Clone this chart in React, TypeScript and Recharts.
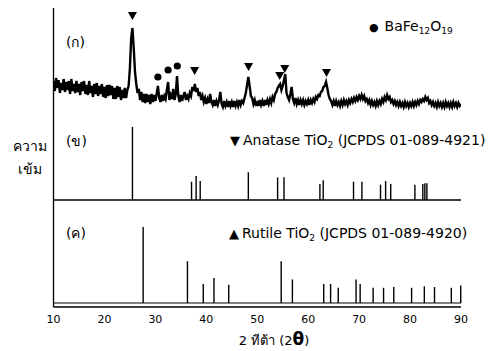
import React from 'react';
import { ComposedChart, XAxis, YAxis, Line, ReferenceLine, ReferenceDot } from 'recharts';

// measured pattern (ก): [2θ, counts in arbitrary units]
const scan: [number, number][] = [
  [10, 29], [10.25, 19], [10.5, 32], [10.75, 22], [11, 30], [11.25, 17], [11.5, 27], [11.75, 20],
  [12, 31], [12.25, 18], [12.5, 28], [12.75, 20], [13, 29], [13.25, 16], [13.5, 31], [13.75, 19],
  [14, 26], [14.25, 17], [14.5, 29], [14.75, 18], [15, 26], [15.25, 15], [15.5, 28], [15.75, 19],
  [16, 29], [16.25, 16], [16.5, 25], [16.75, 15], [17, 29], [17.25, 17], [17.5, 24], [17.75, 13],
  [18, 26], [18.25, 16], [18.5, 27], [18.75, 14], [19, 24], [19.25, 16], [19.5, 26], [19.75, 13],
  [20, 23], [20.25, 12], [20.5, 25], [20.75, 14], [21, 25], [21.25, 15], [21.5, 24], [21.75, 11],
  [22, 22], [22.25, 11], [22.5, 24], [22.75, 13], [23, 23], [23.25, 10], [23.5, 20], [23.75, 12],
  [24, 22], [24.25, 12], [24.5, 20], [24.75, 24], [25, 42], [25.25, 72], [25.5, 82], [25.75, 62],
  [26, 38], [26.25, 26], [26.5, 17], [26.75, 21], [27, 10], [27.25, 18], [27.5, 8], [27.75, 16],
  [28, 7], [28.25, 16], [28.5, 8], [28.75, 15], [29, 6], [29.25, 16], [29.5, 8], [29.75, 15],
  [30, 9], [30.25, 16], [30.5, 24], [30.75, 12], [31, 8], [31.25, 15], [31.5, 9], [31.75, 14],
  [32, 11], [32.25, 20], [32.5, 28], [32.75, 10], [33, 15], [33.25, 11], [33.5, 21], [33.75, 10],
  [34, 16], [34.25, 34], [34.5, 14], [34.75, 8], [35, 15], [35.25, 9], [35.5, 14], [35.75, 18],
  [36, 10], [36.25, 14], [36.5, 11], [36.75, 17], [37, 14], [37.25, 23], [37.5, 19], [37.75, 26],
  [38, 18], [38.25, 22], [38.5, 14], [38.75, 18], [39, 10], [39.25, 14], [39.5, 8], [39.75, 12],
  [40, 6], [40.25, 11], [40.5, 7], [40.75, 16], [41, 8], [41.25, 5], [41.5, 10], [41.75, 4],
  [42, 9], [42.25, 5], [42.5, 10], [42.75, 18], [43, 6], [43.25, 3], [43.5, 9], [43.75, 4],
  [44, 8], [44.25, 3], [44.5, 9], [44.75, 4], [45, 8], [45.25, 3], [45.5, 9], [45.75, 4],
  [46, 8], [46.25, 4], [46.5, 10], [46.75, 5], [47, 9], [47.25, 7], [47.5, 12], [47.75, 17],
  [48, 25], [48.25, 33], [48.5, 24], [48.75, 14], [49, 12], [49.25, 6], [49.5, 10], [49.75, 4],
  [50, 9], [50.25, 4], [50.5, 10], [50.75, 5], [51, 9], [51.25, 4], [51.5, 10], [51.75, 5],
  [52, 10], [52.25, 6], [52.5, 11], [52.75, 7], [53, 13], [53.25, 10], [53.5, 16], [53.75, 18],
  [54, 22], [54.25, 24], [54.5, 26], [54.75, 20], [55, 24], [55.25, 30], [55.5, 36], [55.75, 17],
  [56, 13], [56.25, 10], [56.5, 16], [56.75, 23], [57, 11], [57.25, 7], [57.5, 12], [57.75, 6],
  [58, 10], [58.25, 5], [58.5, 10], [58.75, 6], [59, 10], [59.25, 5], [59.5, 9], [59.75, 6],
  [60, 10], [60.25, 5], [60.5, 10], [60.75, 7], [61, 11], [61.25, 8], [61.5, 13], [61.75, 11],
  [62, 15], [62.25, 14], [62.5, 18], [62.75, 19], [63, 23], [63.25, 24], [63.5, 28], [63.75, 22],
  [64, 15], [64.25, 11], [64.5, 9], [64.75, 5], [65, 9], [65.25, 4], [65.5, 9], [65.75, 5],
  [66, 8], [66.25, 4], [66.5, 9], [66.75, 5], [67, 10], [67.25, 6], [67.5, 9], [67.75, 5],
  [68, 10], [68.25, 7], [68.5, 11], [68.75, 8], [69, 12], [69.25, 9], [69.5, 13], [69.75, 10],
  [70, 14], [70.25, 11], [70.5, 15], [70.75, 11], [71, 14], [71.25, 9], [71.5, 11], [71.75, 7],
  [72, 10], [72.25, 5], [72.5, 9], [72.75, 5], [73, 8], [73.25, 4], [73.5, 9], [73.75, 5],
  [74, 9], [74.25, 6], [74.5, 11], [74.75, 8], [75, 13], [75.25, 10], [75.5, 15], [75.75, 11],
  [76, 13], [76.25, 8], [76.5, 10], [76.75, 6], [77, 9], [77.25, 5], [77.5, 8], [77.75, 4],
  [78, 8], [78.25, 4], [78.5, 7], [78.75, 3], [79, 8], [79.25, 4], [79.5, 7], [79.75, 3],
  [80, 7], [80.25, 4], [80.5, 8], [80.75, 4], [81, 8], [81.25, 5], [81.5, 9], [81.75, 6],
  [82, 10], [82.25, 8], [82.5, 11], [82.75, 9], [83, 13], [83.25, 10], [83.5, 12], [83.75, 7],
  [84, 9], [84.25, 5], [84.5, 8], [84.75, 4], [85, 7], [85.25, 3], [85.5, 8], [85.75, 4],
  [86, 7], [86.25, 3], [86.5, 7], [86.75, 3], [87, 8], [87.25, 4], [87.5, 7], [87.75, 3],
  [88, 7], [88.25, 3], [88.5, 8], [88.75, 4], [89, 7], [89.25, 3], [89.5, 7], [89.75, 4],
  [90, 6],
];

// reference sticks, relative intensity (%)
const anataseAngle = [25.5, 37.1, 38.0, 38.8, 48.25, 54.0, 55.25, 62.3, 62.95, 68.9, 70.55, 74.2, 75.2, 76.2, 80.95, 82.5, 82.9, 83.3];
const anataseInt = [100, 25, 33, 26, 38, 31, 31, 22, 27, 25, 25, 21, 26, 22, 21, 22, 23, 23];
const rutileAngle = [27.6, 36.3, 39.4, 41.5, 44.4, 54.7, 56.9, 63.05, 64.4, 65.9, 69.4, 70.2, 72.75, 74.8, 76.8, 80.3, 82.8, 84.8, 88.1, 89.95];
const rutileInt = [100, 55, 25, 33, 24, 55, 31, 25, 25, 20, 31, 25, 20, 20, 21, 20, 22, 21, 20, 23];

// phase markers over the measured pattern
const anataseMarkAngle = [25.5, 37.7, 48.3, 54.4, 55.4, 63.6];
const anataseMarkY = [94, 39, 43, 34, 41, 37];
const bafeMarkAngle = [30.5, 32.5, 34.3];
const bafeMarkY = [33, 40, 44];

const xTicks = [10, 20, 30, 40, 50, 60, 70, 80, 90];

const PATTERN_BASE = 197;
const ANATASE_BASE = 107;
const RUTILE_BASE = 4;

const scanData = scan.map(([x, c]) => ({ x, y: PATTERN_BASE + c }));

const font = '"DejaVu Sans", "Noto Sans", sans-serif';

const DownTri = (props: any) => {
  const { cx, cy } = props;
  return <path d={`M${cx - 4.5},${cy - 4} L${cx + 4.5},${cy - 4} L${cx},${cy + 4} Z`} fill="#000" />;
};

const Dot = (props: any) => <circle cx={props.cx} cy={props.cy} r={3.6} fill="#000" />;

const txt = (left: number, top: number, size: number): React.CSSProperties => ({
  position: 'absolute',
  left,
  top,
  transform: 'translateY(-50%)',
  fontSize: size,
  fontFamily: font,
  color: '#000',
  whiteSpace: 'nowrap',
  lineHeight: 1,
});

const sub = { fontSize: 9, verticalAlign: -3 } as React.CSSProperties;
const glyph = { fontSize: 13, marginRight: 3 } as React.CSSProperties;

export default function App() {
  return (
    <div style={{ position: 'relative', width: 480, height: 340 }}>
      <ComposedChart width={480} height={340} margin={{ top: 0, right: 27, left: 44.5, bottom: 16 }}>
        <XAxis
          dataKey="x"
          type="number"
          domain={[10, 90]}
          ticks={xTicks}
          allowDataOverflow
          height={25}
          tickLine={false}
          axisLine={{ stroke: '#000', strokeWidth: 1.6 }}
          tick={{ fill: '#000', fontSize: 11, fontFamily: font }}
        />
        <YAxis
          dataKey="y"
          type="number"
          domain={[0, 299]}
          width={1}
          tick={false}
          tickLine={false}
          axisLine={false}
        />
        <ReferenceLine
          segment={[{ x: 10, y: 0 }, { x: 10, y: 299 }]}
          stroke="#000"
          strokeWidth={1.3}
        />
        <ReferenceLine y={ANATASE_BASE} stroke="#000" strokeWidth={1.4} />
        <ReferenceLine y={RUTILE_BASE} stroke="#000" strokeWidth={1.2} />
        {anataseAngle.map((a, i) => (
          <ReferenceLine
            key={'a' + i}
            segment={[{ x: a, y: ANATASE_BASE }, { x: a, y: ANATASE_BASE + anataseInt[i] * 0.73 }]}
            stroke="#000"
            strokeWidth={1.4}
          />
        ))}
        {rutileAngle.map((a, i) => (
          <ReferenceLine
            key={'r' + i}
            segment={[{ x: a, y: RUTILE_BASE }, { x: a, y: RUTILE_BASE + rutileInt[i] * 0.76 }]}
            stroke="#000"
            strokeWidth={1.4}
          />
        ))}
        <Line
          data={scanData}
          dataKey="y"
          type="linear"
          dot={false}
          stroke="#000"
          strokeWidth={2.4}
          isAnimationActive={false}
        />
        {anataseMarkAngle.map((a, i) => (
          <ReferenceDot key={'am' + i} x={a} y={PATTERN_BASE + anataseMarkY[i]} r={4} shape={DownTri} />
        ))}
        {bafeMarkAngle.map((a, i) => (
          <ReferenceDot key={'bm' + i} x={a} y={PATTERN_BASE + bafeMarkY[i]} r={4} shape={Dot} />
        ))}
      </ComposedChart>

      <div style={txt(58, 34, 14)}>(ก)</div>
      <div style={txt(58, 133, 14)}>(ข)</div>
      <div style={txt(58, 225, 14)}>(ค)</div>

      <div style={txt(361, 19, 14)}>
        <span style={{ fontSize: 11, marginRight: 6 }}>●</span>BaFe<span style={sub}>12</span>O<span style={sub}>19</span>
      </div>
      <div style={txt(222, 133, 14)}>
        <span style={glyph}>▼</span>Anatase TiO<span style={sub}>2</span> (JCPDS 01-089-4921)
      </div>
      <div style={txt(221, 226, 14)}>
        <span style={glyph}>▲</span>Rutile TiO<span style={sub}>2</span> (JCPDS 01-089-4920)
      </div>

      <div style={{ ...txt(0, 150, 14), width: 44, textAlign: 'center', lineHeight: 1.65 }}>
        ความ
        <br />
        เข้ม
      </div>

      <div style={{ ...txt(0, 331, 13), left: 0, width: 532, textAlign: 'center' }}>
        2 ทีต้า (2<span style={{ fontWeight: 'bold', fontSize: 17 }}>θ</span>)
      </div>
    </div>
  );
}
